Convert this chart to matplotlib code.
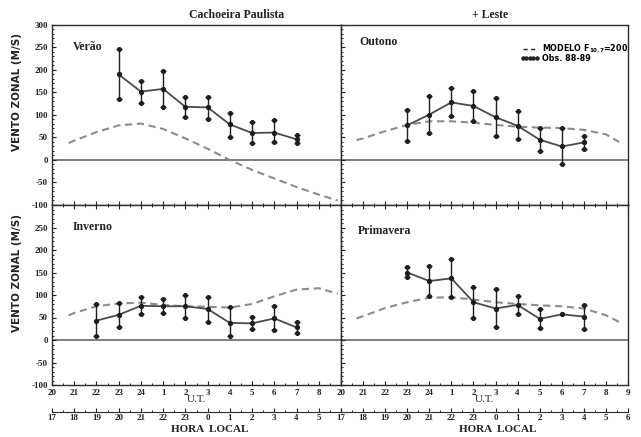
import numpy as np
import matplotlib
matplotlib.use("Agg")
import matplotlib.pyplot as plt
from matplotlib.ticker import MultipleLocator
from matplotlib.lines import Line2D

plt.rcParams['font.family'] = ['Liberation Serif', 'DejaVu Serif']
plt.rcParams['font.weight'] = 'bold'
plt.rcParams['axes.unicode_minus'] = False

# ---------------- dados (horas em U.T.) ----------------
ut_labels = ["20", "21", "22", "23", "24", "1", "2", "3", "4", "5", "6", "7", "8", "9"]
hl_labels = ["17", "18", "19", "20", "21", "22", "23", "0", "1", "2", "3", "4", "5", "6"]
y_ticks = [300, 250, 200, 150, 100, 50, 0, -50, -100]

# Verao
obs_ut_verao = [23, 24, 1, 2, 3, 4, 5, 6, 7]
obs_verao = [190, 152, 158, 118, 117, 79, 60, 61, 46]
obs_verao_sup = [246, 175, 198, 141, 141, 104, 84, 88, 55]
obs_verao_inf = [135, 127, 118, 96, 91, 52, 37, 39, 38]
mod_ut_verao = [20.75, 21, 22, 23, 24, 1, 2, 3, 4, 5, 6, 7, 8, 8.85]
mod_verao = [38, 43, 62, 77, 81, 69, 48, 25, 0, -22, -41, -60, -77, -90]

# Outono
obs_ut_outono = [23, 24, 1, 2, 3, 4, 5, 6, 7]
obs_outono = [77, 101, 128, 120, 95, 76, 45, 30, 39]
obs_outono_sup = [110, 143, 160, 154, 138, 108, 72, 70, 54]
obs_outono_inf = [43, 60, 97, 86, 53, 46, 20, -8, 25]
mod_ut_outono = [20.7, 21, 22, 23, 24, 1, 2, 3, 4, 5, 6, 7, 8, 8.6]
mod_outono = [44, 48, 64, 78, 86, 86, 83, 78, 74, 72, 71, 67, 57, 40]

# Inverno
obs_ut_inverno = [22, 23, 24, 1, 2, 3, 4, 5, 6, 7]
obs_inverno = [43, 56, 76, 75, 75, 69, 38, 37, 48, 28]
obs_inverno_sup = [79, 82, 95, 92, 101, 96, 73, 51, 75, 41]
obs_inverno_inf = [8, 29, 58, 59, 49, 41, 8, 24, 23, 15]
mod_ut_inverno = [20.75, 21, 22, 23, 24, 1, 2, 3, 4, 5, 6, 7, 8, 8.85]
mod_inverno = [55, 60, 75, 81, 83, 78, 75, 74, 72, 80, 97, 112, 115, 103]

# Primavera (ponto das 6 UT sem barra)
obs_ut_primavera = [23, 24, 1, 2, 3, 4, 5, 6, 7]
obs_primavera = [150, 131, 137, 84, 70, 78, 47, 57, 52]
obs_primavera_sup = [163, 165, 180, 117, 113, 98, 69, np.nan, 78]
obs_primavera_inf = [140, 97, 95, 50, 28, 58, 26, np.nan, 25]
mod_ut_primavera = [20.7, 21, 22, 23, 24, 1, 2, 3, 4, 5, 6, 7, 8, 8.6]
mod_primavera = [48, 53, 71, 84, 94, 95, 90, 84, 80, 77, 75, 70, 55, 40]


def pos(ut):
    # horas decorridas desde 20 UT
    return (np.asarray(ut, dtype=float) - 20) % 24


W, H = 641, 437
fig = plt.figure(figsize=(W / 100, H / 100), dpi=100)


def box(x0, y0, x1, y1):
    return [x0 / W, 1 - y1 / H, (x1 - x0) / W, (y1 - y0) / H]


ax_v = fig.add_axes(box(52, 25, 341, 205))
ax_o = fig.add_axes(box(341, 25, 628, 205))
ax_i = fig.add_axes(box(52, 205, 341, 385))
ax_p = fig.add_axes(box(341, 205, 628, 385))

C_OBS = '#4a4a4a'
C_PT = '#1e1e1e'
C_MOD = '#8c8c8c'


def painel(ax, ut_o, m, sup, inf, ut_m, mod, nome, npos, nval):
    x = pos(ut_o)
    sup = np.asarray(sup, dtype=float)
    inf = np.asarray(inf, dtype=float)
    ax.axhline(0, color='#5a5a5a', lw=1.1, zorder=1)
    ax.plot(pos(ut_m), mod, color=C_MOD, lw=1.5, dashes=(3.5, 2.2), zorder=2)
    ax.vlines(x, inf, sup, color=C_PT, lw=1.0, zorder=3)
    for v in (sup, inf):
        ax.plot(x, v, ls='none', marker='o', ms=2.6, color=C_PT, zorder=4)
        ax.plot(x, v, ls='none', marker='_', ms=4, mew=1.0, color=C_PT, zorder=4)
    ax.plot(x, m, color=C_OBS, lw=1.3, marker='o', ms=2.8, mfc=C_PT, mec=C_PT, zorder=5)
    ax.text(npos, nval, nome, fontsize=8.5, ha='left', va='center', color='#222222')

    ax.set_xlim(0, 13)
    ax.set_ylim(-100, 300)
    ax.set_xticks(range(14))
    ax.xaxis.set_minor_locator(MultipleLocator(0.5))
    ax.set_yticks(y_ticks)
    ax.yaxis.set_minor_locator(MultipleLocator(10))
    ax.tick_params(axis='both', which='major', direction='in', length=3, width=0.8,
                   labelsize=6.5, colors='#222222', pad=3)
    ax.tick_params(axis='both', which='minor', direction='in', length=1.6, width=0.6)
    for s in ax.spines.values():
        s.set_color('#2a2a2a')
        s.set_linewidth(1.0)


painel(ax_v, obs_ut_verao, obs_verao, obs_verao_sup, obs_verao_inf,
       mod_ut_verao, mod_verao, "Verão", 0.95, 250)
painel(ax_o, obs_ut_outono, obs_outono, obs_outono_sup, obs_outono_inf,
       mod_ut_outono, mod_outono, "Outono", 0.83, 263)
painel(ax_i, obs_ut_inverno, obs_inverno, obs_inverno_sup, obs_inverno_inf,
       mod_ut_inverno, mod_inverno, "Inverno", 0.93, 251)
painel(ax_p, obs_ut_primavera, obs_primavera, obs_primavera_sup, obs_primavera_inf,
       mod_ut_primavera, mod_primavera, "Primavera", 0.78, 243)

# rotulos dos eixos y
ax_v.set_yticklabels([str(v) for v in y_ticks])
ax_i.set_yticklabels([""] + [str(v) for v in y_ticks[1:]])
ax_o.set_yticklabels([])
ax_p.set_yticklabels([])
for ax in (ax_v, ax_i):
    ax.set_ylabel("VENTO ZONAL (M/S)", fontsize=7.5, family='DejaVu Sans',
                  fontweight='bold', color='#222222')
    ax.yaxis.set_label_coords(-30 / 289, 0.625)

# eixos x: U.T. e hora local
for ax in (ax_v, ax_o):
    ax.tick_params(axis='x', which='both', labelbottom=False)
for ax, last in ((ax_i, False), (ax_p, True)):
    ax.tick_params(axis='x', which='both', top=True)
    labs = ut_labels if last else ut_labels[:-1] + [""]
    ax.set_xticklabels(labs)
    ax.set_xlabel("U.T.", fontsize=8, labelpad=-1.5, color='#222222')
    sec = ax.secondary_xaxis(-26.7 / 180)
    sec.set_xticks(range(14))
    sec.set_xticklabels(hl_labels if last else hl_labels[:-1] + [""])
    sec.xaxis.set_minor_locator(MultipleLocator(0.5))
    sec.tick_params(axis='x', which='major', direction='in', length=3, width=0.8,
                    labelsize=6.5, colors='#222222', pad=2)
    sec.tick_params(axis='x', which='minor', direction='in', length=1.6, width=0.6)
    sec.spines['bottom'].set_color('#2a2a2a')

fig.text(210 / W, 1 - 430 / H, "HORA  LOCAL", fontsize=8, ha='center', va='center',
         color='#222222')
fig.text(498 / W, 1 - 430 / H, "HORA  LOCAL", fontsize=8, ha='center', va='center',
         color='#222222')

# legenda
handles = [Line2D([], [], color='#222222', lw=1.0, dashes=(3, 2.5)),
           Line2D([], [], color='#222222', lw=0.8, marker='o', ms=2.2)]
ax_o.legend(handles, [r"MODELO F$_{10.7}$=200", "Obs. 88-89"], loc='upper right',
            bbox_to_anchor=(1.0, 1 - 18 / 180), frameon=False, numpoints=5,
            handlelength=2.4, handletextpad=0.3, labelspacing=-0.15,
            borderaxespad=0, borderpad=0,
            prop={'family': 'DejaVu Sans', 'weight': 'bold', 'size': 5.8})

fig.text(237 / W, 1 - 15 / H, "Cachoeira Paulista", fontsize=8.5, ha='center',
         va='center', color='#222222')
fig.text(490 / W, 1 - 15 / H, "+ Leste", fontsize=8.5, ha='center', va='center',
         color='#222222')

fig.savefig("out.png", dpi=100)
